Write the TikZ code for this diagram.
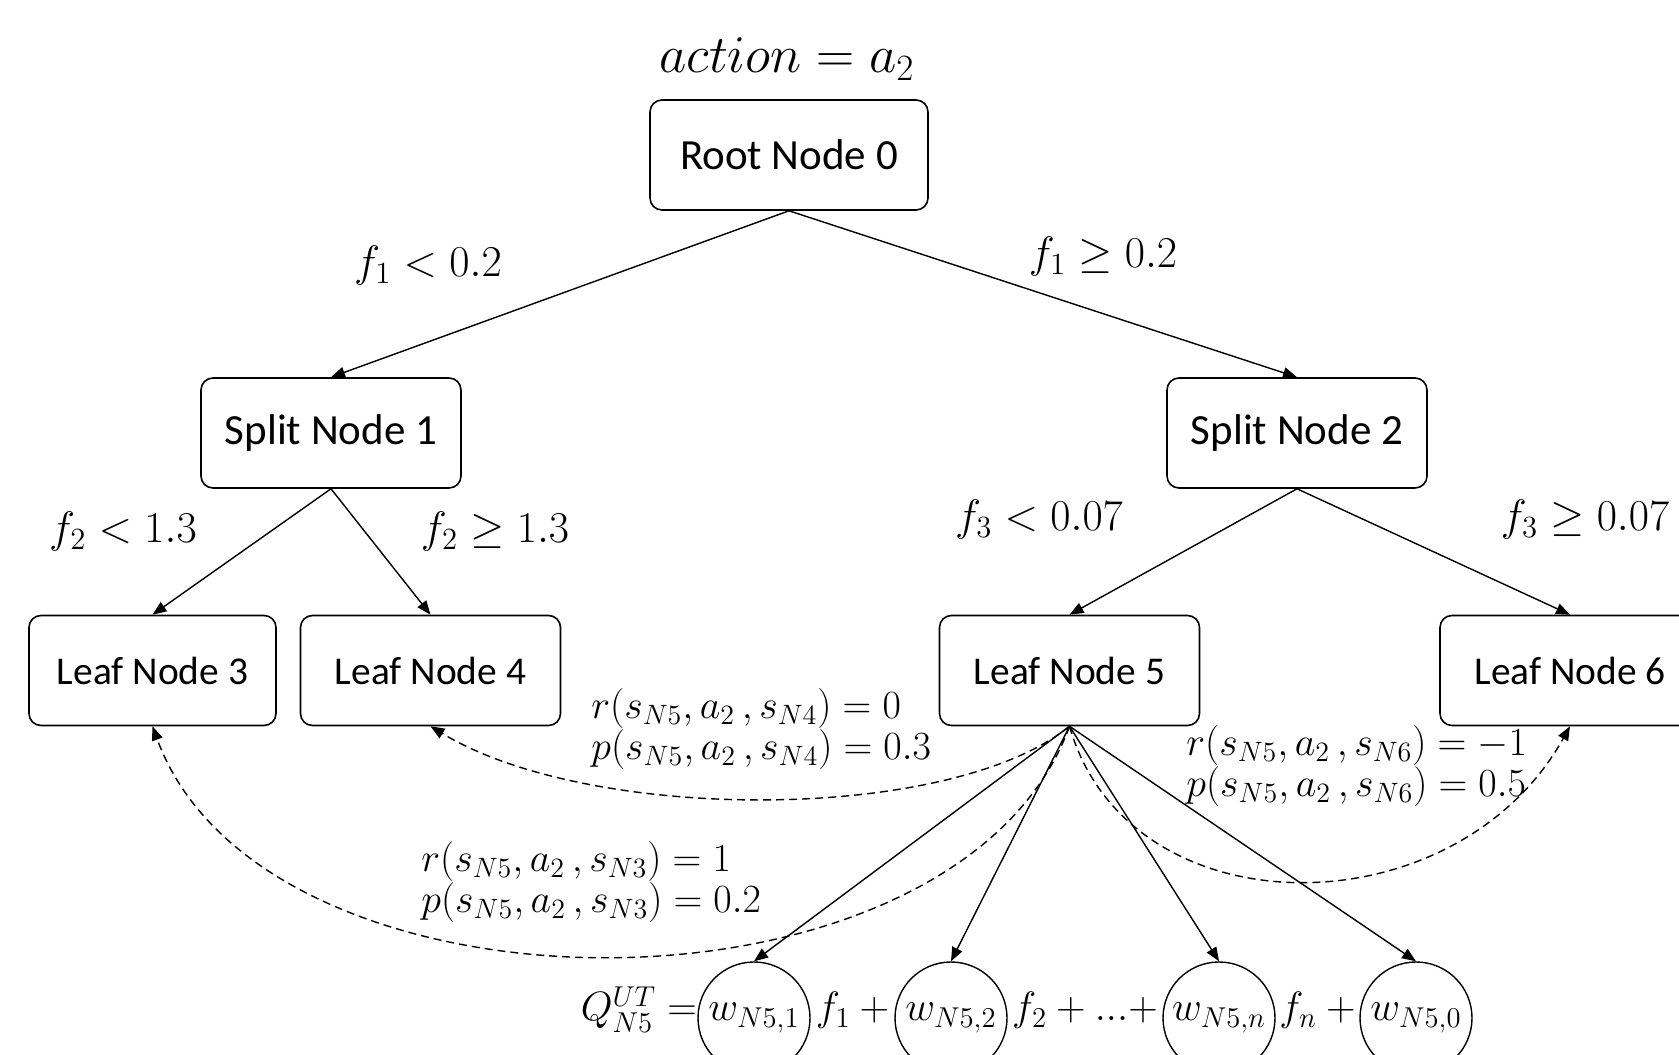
\documentclass[tikz,border=0pt]{standalone}
\usepackage{fix-cm}
\usepackage{amsmath,amssymb}
\usepackage{fontspec}
\newfontfamily\calibri{Carlito}
\usepackage{tikz}
\usetikzlibrary{
  arrows.meta,
  calc,
  positioning
}

\begin{document}
\begin{tikzpicture}[
  x=5pt, y=5pt,
  box/.style={draw, rounded corners=6pt, minimum width=130pt, minimum height=55pt,
              line width=0.8pt, font=\calibri\fontsize{21.5}{26}\selectfont},
  leaf/.style={box, font=\calibri\fontsize{19.7}{24}\selectfont},
  cond/.style={font=\fontsize{22}{26}\selectfont},
  trans/.style={align=left, inner sep=0pt, font=\fontsize{20}{20.5}\selectfont},
  wt/.style={draw, circle, minimum size=56pt, inner sep=0pt, line width=0.7pt,
             font=\fontsize{20.5}{24}\selectfont},
  eq/.style={font=\fontsize{20.5}{24}\selectfont},
  arr/.style={-{Triangle[length=7pt, width=5.5pt]}, line width=0.7pt},
  darr/.style={arr, dash pattern=on 4pt off 2.5pt}
]
  \useasboundingbox (0,0) rectangle (167.9,105.4);

  % Tree nodes
  \node[box, minimum width=139pt] (root) at (78.9, 89.9) {Root Node 0};
  \node[box] (s1) at (33.1, 62.1) {Split Node 1};
  \node[box] (s2) at (129.7, 62.1) {Split Node 2};
  \node[leaf, minimum width=123.5pt] (l3) at (15.25, 38.35) {Leaf Node 3};
  \node[leaf] (l4) at (43.05, 38.35) {Leaf Node 4};
  \node[leaf] (l5) at (106.95, 38.35) {Leaf Node 5};
  \node[leaf] (l6) at (157.0, 38.35) {Leaf Node 6};

  % Action
  \node[font=\fontsize{26.5}{32}\selectfont] (act) at (78.7, 99.5) {$action = a_2$};

  % Split conditions
  \node[cond] (c1) at (42.8, 78.8) {$f_1 < 0.2$};
  \node[cond] (c2) at (110.3, 79.7) {$f_1 \geq 0.2$};
  \node[cond] (c3) at (12.3, 52.2) {$f_2 < 1.3$};
  \node[cond] (c4) at (49.5, 52.2) {$f_2 \geq 1.3$};
  \node[cond] (c5) at (103.9, 53.4) {$f_3 < 0.07$};
  \node[cond] (c6) at (158.5, 53.4) {$f_3 \geq 0.07$};

  % Tree edges
  \foreach \p/\c in {root/s1, root/s2, s1/l3, s1/l4, s2/l5, s2/l6}
    \draw[arr] (\p.south) -- (\c.north);

  % Linear model of leaf 5
  \node[wt] (w1) at (75.4, 3.6) {$w_{N5,1}$};
  \node[wt] (w2) at (95.1, 3.6) {$w_{N5,2}$};
  \node[wt] (wn) at (121.9, 3.6) {$w_{N5,n}$};
  \node[wt] (w0) at (141.6, 3.6) {$w_{N5,0}$};
  \node[eq, anchor=base east, inner sep=0pt] (q) at (w1.west |- w1.base) {$Q^{UT}_{N5} =$};
  \node[eq, anchor=base, inner sep=0pt] (t1) at ($(w1.base)!0.5!(w2.base)$) {$f_1\mskip\medmuskip+$};
  \node[eq, anchor=base, inner sep=0pt] (t2) at ($(w2.base)!0.5!(wn.base)$) {$f_2+{...}{+}$};
  \node[eq, anchor=base, inner sep=0pt] (t3) at ($(wn.base)!0.5!(w0.base)$) {$f_n\mskip\medmuskip+$};

  \foreach \w in {w1, w2, wn, w0}
    \draw[arr] (l5.south) -- (\w.north);

  % Transitions from leaf 5
  \draw[darr] (l5.south) .. controls +(-12,-9.7) and +(16,-9.7) .. (l4.south);
  \draw[darr] (l5.south) .. controls +(-11.2,-30.7) and +(11.2,-30.6) .. (l3.south);
  \draw[darr] (l5.south) .. controls +(5.9,-20.7) and +(-11.5,-20.6) .. (l6.south);

  \node[trans, anchor=west] (p4) at (59.1, 32.45)
    {$r(s_{N5}, a_2\,, s_{N4}) = 0$\\ $p(s_{N5}, a_2\,, s_{N4}) = 0.3$};
  \node[trans, anchor=west] (p3) at (42.1, 17.15)
    {$r(s_{N5}, a_2\,, s_{N3}) = 1$\\ $p(s_{N5}, a_2\,, s_{N3}) = 0.2$};
  \node[trans, anchor=west] (p6) at (118.6, 28.75)
    {$r(s_{N5}, a_2\,, s_{N6}) = -1$\\ $p(s_{N5}, a_2\,, s_{N6}) = 0.5$};
\end{tikzpicture}
\end{document}
